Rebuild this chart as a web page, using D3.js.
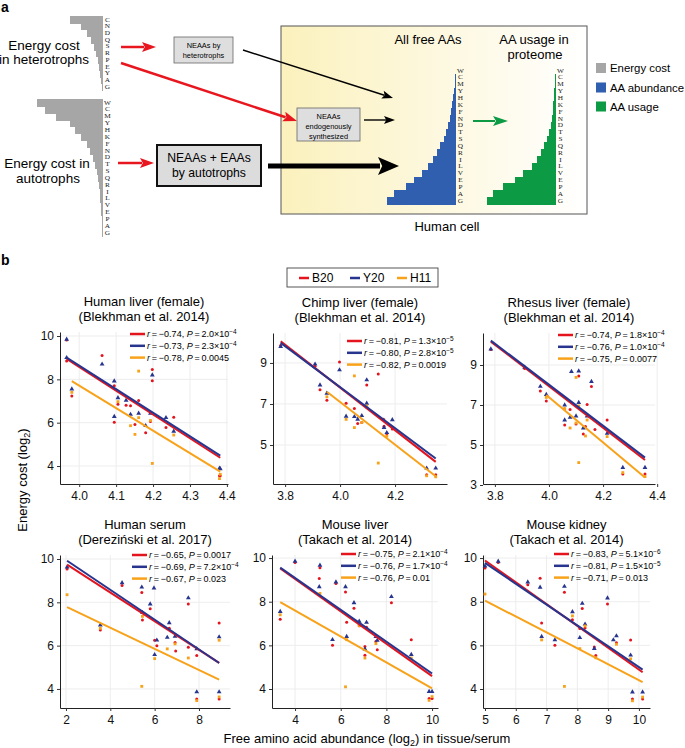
<!DOCTYPE html>
<html><head><meta charset="utf-8">
<script src="https://cdn.jsdelivr.net/npm/d3@7"></script>
<style>body{margin:0;background:#fff} svg{display:block;font-family:"Liberation Sans",Arial,Helvetica,sans-serif}</style>
</head><body><svg id="c" width="685" height="748"></svg>
<script>
// ---------------- DATA ----------------
// Panel a: staircases
const aaHetero = ["C","N","D","Q","S","R","P","E","Y","A","G"];
const costHetero = [33,22,16,12,9,7,5,4,3,2,1.3];
const aaAll = ["W","C","M","Y","H","K","F","N","D","T","S","Q","R","I","L","V","E","P","A","G"];
const costAuto = [66,58,47,33,28,22,16,13,10,8,6,5,4,3.5,3,2.5,2,1.5,1,0.7];
const abundanceAll = [0.5,1,1.5,2,3,4,5,6,8,10,12,16,19,23,28,34,42,50,62,69];
const usageProteome = [0.5,1,1.3,1.7,2,2.7,3,4,5,7,9,12,15,19,24,33,41,53,63,69];

// Panel b: series
const seriesNames = ["B20","Y20","H11"];
const panelTitles = [
  ["Human liver (female)","(Blekhman et al. 2014)"],
  ["Chimp liver (female)","(Blekhman et al. 2014)"],
  ["Rhesus liver (female)","(Blekhman et al. 2014)"],
  ["Human serum","(Dereziński et al. 2017)"],
  ["Mouse liver","(Takach et al. 2014)"],
  ["Mouse kidney","(Takach et al. 2014)"]
];
// rows: [abundance x, B20 cost, Y20 cost, H11 cost]
const humanLiver = [
  [3.966,9.82,9.85,null],[3.966,8.85,9.0,null],[3.98,7.23,7.55,7.4],[4.062,9.1,8.7,null],
  [4.095,7.7,7.92,null],[4.095,6.02,6.28,null],[4.105,6.85,7.15,6.97],[4.127,6.8,7.03,null],
  [4.139,6.78,6.38,5.86],[4.151,5.92,null,5.46],[4.161,null,null,8.38],[4.161,7.02,6.43,6.23],
  [4.18,5.54,5.86,null],[4.193,6.05,6.43,6.1],[4.198,8.46,null,4.12],[4.198,7.94,8.2,null],
  [4.235,5.78,6.23,null],[4.256,6.25,5.6,5.43],[4.38,3.55,3.89,3.42],[4.382,3.55,3.87,3.62]
];
const chimpLiver = [
  [3.784,9.85,9.8,null],[3.909,8.84,8.94,null],[3.927,7.7,7.92,null],[3.952,7.18,7.52,7.35],
  [3.998,9.05,8.66,null],[4.022,7.03,6.4,6.25],[4.052,null,null,8.37],[4.052,6.78,6.38,5.85],
  [4.064,6.05,6.25,null],[4.079,6.1,6.43,6.1],[4.097,7.92,8.17,null],[4.097,6.85,7.03,6.9],
  [4.139,8.46,null,4.12],[4.158,6.25,null,null],[4.16,5.92,5.85,null],[4.17,5.55,5.6,5.43],
  [4.19,5.78,6.23,null],[4.315,3.55,3.87,3.5],[4.348,3.55,3.87,3.45]
];
const rhesusLiver = [
  [3.785,9.78,9.8,null],[3.91,8.83,8.88,null],[3.968,7.7,7.93,null],[3.99,7.2,7.52,7.38],
  [4.058,6.8,7.0,6.82],[4.058,6.0,6.25,null],[4.078,6.78,6.38,5.85],[4.083,null,8.67,null],
  [4.1,null,null,8.38],[4.1,6.05,6.45,6.1],[4.11,8.45,8.7,4.12],[4.11,null,7.12,6.95],
  [4.127,5.55,5.85,null],[4.135,5.92,null,5.45],[4.141,7.02,6.45,6.25],[4.157,7.92,8.17,null],
  [4.17,5.78,null,null],[4.215,6.25,5.58,5.42],[4.273,3.55,3.87,3.62],[4.355,3.55,3.87,3.42]
];
const humanSerum = [
  [2.05,9.54,9.63,8.35],[3.55,6.72,6.95,6.8],[4.53,8.78,8.9,null],[5.42,8.45,8.7,4.12],
  [5.45,7.18,7.52,7.35],[5.8,7.7,7.92,null],[5.97,null,8.66,null],[6.0,6.25,5.58,5.4],
  [6.1,6.0,6.25,null],[6.57,null,6.38,5.85],[6.66,6.8,7.05,null],[6.92,6.15,6.43,6.08],
  [6.95,5.75,null,null],[7.52,7.92,8.2,null],[7.52,5.92,null,5.43],[7.9,5.55,5.85,null],
  [7.9,3.54,3.86,3.46],[8.91,7.05,6.4,6.25],[8.91,3.54,3.86,3.63]
];
const mouseLiver = [
  [3.35,7.2,7.55,7.4],[4.0,9.8,9.85,null],[5.06,9.06,8.68,null],[5.09,9.56,9.67,8.38],
  [5.64,6.0,6.26,null],[5.79,8.83,8.9,null],[6.21,8.45,8.68,4.1],[6.26,7.06,6.4,6.26],
  [6.58,7.7,7.95,null],[6.81,6.9,7.1,6.9],[7.06,5.95,5.83,null],[7.06,5.55,null,5.42],
  [7.13,6.83,7.05,null],[7.54,6.18,6.4,6.08],[7.6,5.8,6.23,null],[8.22,7.95,8.23,null],
  [9.09,6.26,5.58,5.42],[9.87,3.56,3.88,3.48],[10.0,3.56,3.88,3.65]
];
const mouseKidney = [
  [5.0,9.54,9.63,8.35],[5.43,9.8,9.85,null],[6.39,8.78,8.9,null],[6.79,9.08,8.66,null],
  [6.84,7.02,6.4,6.25],[7.27,6.0,6.25,null],[7.58,8.43,8.7,4.12],[7.84,7.17,7.54,7.35],
  [8.08,6.77,6.35,5.85],[8.16,7.69,7.92,null],[8.25,6.8,6.97,6.89],[8.55,5.92,5.85,null],
  [8.6,5.54,null,5.43],[8.98,7.9,8.17,null],[9.17,null,6.25,null],[9.27,6.12,6.43,6.05],
  [9.73,6.25,5.55,5.38],[9.79,3.54,3.86,3.46],[10.12,3.54,3.86,3.63]
];
const panelData = [humanLiver, chimpLiver, rhesusLiver, humanSerum, mouseLiver, mouseKidney];

// regression lines: [[x0,y0],[x1,y1]]
const fitB20 = [[[3.966,8.94],[4.382,4.38]],[[3.784,10.05],[4.348,4.18]],[[3.785,10.17],[4.355,4.25]],
                [[2.05,9.74],[8.91,5.2]],[[3.35,9.52],[10.0,4.59]],[[5.0,9.89],[10.12,4.77]]];
const fitY20 = [[[3.966,9.0],[4.382,4.48]],[[3.784,9.98],[4.348,4.34]],[[3.785,10.22],[4.355,4.37]],
                [[2.05,9.92],[8.91,5.2]],[[3.35,9.56],[10.0,4.71]],[[5.0,9.78],[10.12,4.89]]];
const fitH11 = [[[3.98,7.92],[4.382,3.74]],[[3.952,7.6],[4.348,3.48]],[[3.99,7.5],[4.355,3.37]],
                [[2.05,7.78],[8.91,4.43]],[[3.35,7.98],[10.0,4.03]],[[5.0,8.05],[10.12,4.32]]];

const statsR = [["−0.74","−0.73","−0.78"],["−0.81","−0.80","−0.82"],["−0.74","−0.76","−0.75"],
                ["−0.65","−0.69","−0.67"],["−0.75","−0.76","−0.76"],["−0.83","−0.81","−0.71"]];
const statsP = [["2.0×10^−4","2.3×10^−4","0.0045"],["1.3×10^−5","2.8×10^−5","0.0019"],
                ["1.8×10^−4","1.0×10^−4","0.0077"],["0.0017","7.2×10^−4","0.023"],
                ["2.1×10^−4","1.7×10^−4","0.01"],["5.1×10^−6","1.5×10^−5","0.013"]];

const xDomains = [[3.948,4.403],[3.756,4.389],[3.756,4.392],[1.73,9.4],[2.99,10.26],[4.935,10.36]];
const yDomains = [[3.17,10.185],[3.1,10.46],[3.05,10.6],[3.12,10.185],[3.13,10.14],[3.13,10.14]];
const xTicks = [[4.0,4.1,4.2,4.3,4.4],[3.8,4.0,4.2],[3.8,4.0,4.2,4.4],[2,4,6,8],[4,6,8,10],[5,6,7,8,9,10]];
const yTicks = [[4,6,8,10],[5,7,9],[3,5,7,9],[4,6,8,10],[4,6,8,10],[4,6,8,10]];
const xTickFmt = [".1f",".1f",".1f","d","d","d"];

// ---------------- STYLE / LAYOUT ----------------
const RED = "#e4141e", BLUE = "#27358e", ORANGE = "#f8a21a";
const seriesColors = [RED, BLUE, ORANGE];
const ARROW_RED = "#e8161e", GRAY = "#a6a6a6", AABLUE = "#2f5fae", AAGREEN = "#0c9a44";
const plotBoxes = [[60,332,228,484],[273,333,447,484],[483,333,655,484],
                   [60,555,230,708],[272,555,438,708],[483,555,650,708]];
const annoPos = [[130,334],[347,341],[558,335],[132,555],[341,554],[554,554]];

const svg = d3.select("#c");
const defs = svg.append("defs");
const grad = defs.append("linearGradient").attr("id","cellGrad").attr("x1","0%").attr("x2","100%");
grad.append("stop").attr("offset","0%").attr("stop-color","#fbf1bd");
grad.append("stop").attr("offset","100%").attr("stop-color","#ffffff");

// ---------------- PANEL A ----------------
const ga = svg.append("g");
ga.append("text").attr("x",1).attr("y",12).attr("font-size",14).attr("font-weight","bold").text("a");
svg.append("text").attr("x",1).attr("y",265).attr("font-size",14).attr("font-weight","bold").text("b");

const widthScale = d3.scaleLinear().domain([0,69]).range([0,69]);
function staircase(letters, values, xRight, yTop, yBottom, color){
  const yb = d3.scaleBand().domain(letters).range([yTop,yBottom]);
  const gg = ga.append("g");
  gg.selectAll("rect").data(letters).join("rect")
    .attr("x",(d,i)=>xRight - widthScale(values[i]))
    .attr("y",d=>yb(d)).attr("width",(d,i)=>widthScale(values[i]))
    .attr("height",yb.bandwidth()+1).attr("fill",color).attr("shape-rendering","crispEdges");
  gg.selectAll("text").data(letters).join("text")
    .attr("transform",d=>`translate(${xRight+4.5},${yb(d)+yb.bandwidth()/2}) scale(1.3,1)`)
    .attr("text-anchor","middle").attr("dominant-baseline","central")
    .attr("font-family","Liberation Serif, serif").attr("font-size",5.6)
    .attr("fill","#222")
    .text(d=>d);
}

// cell box
ga.append("rect").attr("x",281).attr("y",26).attr("width",306).attr("height",188)
  .attr("fill","url(#cellGrad)").attr("stroke","#555").attr("stroke-width",1);

staircase(aaHetero, costHetero, 103, 16, 90, GRAY);
staircase(aaAll, costAuto, 103, 99, 236, GRAY);
staircase(aaAll, abundanceAll, 456, 67, 204, AABLUE);
staircase(aaAll, usageProteome, 556, 67, 204, AAGREEN);

function txt(x,y,s,size,anchor="middle",extra={}){
  const t = ga.append("text").attr("x",x).attr("y",y).attr("font-size",size).attr("text-anchor",anchor).text(s);
  for (const k in extra) t.attr(k, extra[k]);
  return t;
}
txt(44,50,"Energy cost",13.5); txt(44,64,"in heterotrophs",13.5);
txt(47,168,"Energy cost in",13.5); txt(48,183,"autotrophs",13.5);
txt(428,44,"All free AAs",13); txt(534,44,"AA usage in",13); txt(535,59,"proteome",13);
txt(447,231,"Human cell",13);

// boxes
ga.append("rect").attr("x",174).attr("y",37).attr("width",59).attr("height",26).attr("fill","#dedede").attr("stroke","#666").attr("stroke-width",0.8);
txt(203.5,48,"NEAAs by",7.4); txt(203.5,57.5,"heterotrophs",7.4);
ga.append("rect").attr("x",297).attr("y",108).attr("width",63).attr("height",33).attr("fill","#dedede").attr("stroke","#666").attr("stroke-width",0.8);
txt(328.5,118.5,"NEAAs",7.4); txt(328.5,128.5,"endogenously",7.4); txt(328.5,138.5,"synthesized",7.4);
ga.append("rect").attr("x",157).attr("y",145).attr("width",104).attr("height",41).attr("fill","#dcdcdc").attr("stroke","#111").attr("stroke-width",2);
txt(209,162,"NEAAs + EAAs",12.2); txt(209,177,"by autotrophs",12.2);

function arrow(x1,y1,x2,y2,color,w,hl,hw){
  const a = Math.atan2(y2-y1,x2-x1), c = Math.cos(a), s = Math.sin(a);
  const bx = x2-hl*c, by = y2-hl*s;
  ga.append("line").attr("x1",x1).attr("y1",y1).attr("x2",bx+c*2).attr("y2",by+s*2)
    .attr("stroke",color).attr("stroke-width",w);
  const nx = bx + hl*0.2*c, ny = by + hl*0.2*s;
  ga.append("path").attr("d",`M${x2},${y2}L${bx - hw/2*s},${by + hw/2*c}L${nx},${ny}L${bx + hw/2*s},${by - hw/2*c}Z`).attr("fill",color);
}
arrow(121,47,156,47,ARROW_RED,2.5,14,10);
arrow(121,63,297,121,ARROW_RED,2.5,14,10);
arrow(118,163,154,163,ARROW_RED,2.5,14,10);
arrow(243,50,393,98,"#000",1.4,11,8);
arrow(364,120,395,120,"#000",1.4,11,8);
arrow(268,166,399,166,"#000",5,21,18);
arrow(473,121,508,121,AAGREEN,2,15,10);

// legend panel a
[["Energy cost",GRAY,68],["AA abundance",AABLUE,87.5],["AA usage",AAGREEN,106.5]].forEach(([s,c,y])=>{
  ga.append("rect").attr("x",596).attr("y",y-5).attr("width",10).attr("height",10).attr("fill",c);
  txt(610,y+4.3,s,11.4,"start");
});

// ---------------- PANEL B ----------------
const gb = svg.append("g");
// legend
gb.append("rect").attr("x",287).attr("y",268).attr("width",151).attr("height",19).attr("fill","#fff").attr("stroke","#444").attr("stroke-width",0.9);
[[299,RED,"B20"],[350,BLUE,"Y20"],[397,ORANGE,"H11"]].forEach(([x,c,s])=>{
  gb.append("line").attr("x1",x).attr("x2",x+10).attr("y1",278).attr("y2",278).attr("stroke",c).attr("stroke-width",2.5);
  gb.append("text").attr("x",x+13).attr("y",282.3).attr("font-size",12).text(s);
});

const triangle = d3.symbol().type(d3.symbolTriangle).size(10);
const square = d3.symbol().type(d3.symbolSquare).size(8);
const fits = [fitB20, fitY20, fitH11];

panelData.forEach((data,i)=>{
  const [x0,y0,x1,y1] = plotBoxes[i];
  const x = d3.scaleLinear().domain(xDomains[i]).range([x0,x1]);
  const y = d3.scaleLinear().domain(yDomains[i]).range([y1,y0]);
  const pg = gb.append("g");
  // grid
  pg.selectAll(".gx").data(xTicks[i]).join("line").attr("x1",d=>x(d)).attr("x2",d=>x(d))
    .attr("y1",y0).attr("y2",y1).attr("stroke","#ebebeb").attr("stroke-width",0.9);
  pg.selectAll(".gy").data(yTicks[i]).join("line").attr("y1",d=>y(d)).attr("y2",d=>y(d))
    .attr("x1",x0).attr("x2",x1).attr("stroke","#ebebeb").attr("stroke-width",0.9);
  // axes
  const ax = pg.append("g").attr("transform",`translate(0,${y1})`)
    .call(d3.axisBottom(x).tickValues(xTicks[i]).tickFormat(d3.format(xTickFmt[i])).tickSize(3).tickSizeOuter(0).tickPadding(4));
  const ay = pg.append("g").attr("transform",`translate(${x0},0)`)
    .call(d3.axisLeft(y).tickValues(yTicks[i]).tickFormat(d3.format("d")).tickSize(3).tickSizeOuter(0).tickPadding(3));
  [ax,ay].forEach(a=>{
    a.selectAll("text").attr("font-size",12).attr("fill","#111").attr("font-family","Liberation Sans, Arial, sans-serif");
    a.select(".domain").attr("stroke","#222").attr("stroke-width",1);
    a.selectAll(".tick line").attr("stroke","#333");
  });
  // title
  const cx = (x0+x1)/2;
  pg.append("text").attr("x",cx).attr("y",y0-26).attr("text-anchor","middle").attr("font-size",13).text(panelTitles[i][0]);
  pg.append("text").attr("x",cx).attr("y",y0-11).attr("text-anchor","middle").attr("font-size",13).text(panelTitles[i][1]);
  // points
  pg.selectAll(".pb").data(data.filter(d=>d[1]!=null)).join("circle")
    .attr("cx",d=>x(d[0])).attr("cy",d=>y(d[1])).attr("r",1.5).attr("fill",RED);
  pg.selectAll(".py").data(data.filter(d=>d[2]!=null)).join("path")
    .attr("d",triangle).attr("transform",d=>`translate(${x(d[0])},${y(d[2])})`).attr("fill",BLUE);
  pg.selectAll(".ph").data(data.filter(d=>d[3]!=null)).join("path")
    .attr("d",square).attr("transform",d=>`translate(${x(d[0])},${y(d[3])})`).attr("fill",ORANGE);
  // fit lines
  fits.forEach((f,k)=>{
    pg.append("path").datum(f[i]).attr("d",d3.line().x(d=>x(d[0])).y(d=>y(d[1])))
      .attr("stroke",seriesColors[k]).attr("stroke-width",2).attr("fill","none");
  });
  // stats annotations
  const [axp, ayp] = annoPos[i];
  for (let k=0;k<3;k++){
    const yy = ayp + k*11.8;
    pg.append("line").attr("x1",axp).attr("x2",axp+15).attr("y1",yy).attr("y2",yy)
      .attr("stroke",seriesColors[k]).attr("stroke-width",2.5);
    const t = pg.append("text").attr("x",axp+17).attr("y",yy+3.2).attr("font-size",9);
    t.append("tspan").attr("font-style","italic").text("r");
    t.append("tspan").text("\u2009=\u2009" + statsR[i][k] + ", ");
    t.append("tspan").attr("font-style","italic").text("P");
    const p = statsP[i][k];
    if (p.includes("^")){
      const [m,e] = p.split("^");
      t.append("tspan").text("\u2009=\u2009" + m);
      t.append("tspan").attr("font-size",6.5).attr("dy",-3.5).text(e);
    } else {
      t.append("tspan").text("\u2009=\u2009" + p);
    }
  }
});

// axis titles
const yt = svg.append("text").attr("transform","translate(27,480) rotate(-90)").attr("text-anchor","middle").attr("font-size",13);
yt.append("tspan").text("Energy cost (log");
yt.append("tspan").attr("font-size",9).attr("dy",3).text("2");
yt.append("tspan").attr("dy",-3).text(")");
const xt = svg.append("text").attr("x",367).attr("y",743).attr("text-anchor","middle").attr("font-size",13);
xt.append("tspan").text("Free amino acid abundance (log");
xt.append("tspan").attr("font-size",9).attr("dy",3).text("2");
xt.append("tspan").attr("dy",-3).text(") in tissue/serum");
</script></body></html>
